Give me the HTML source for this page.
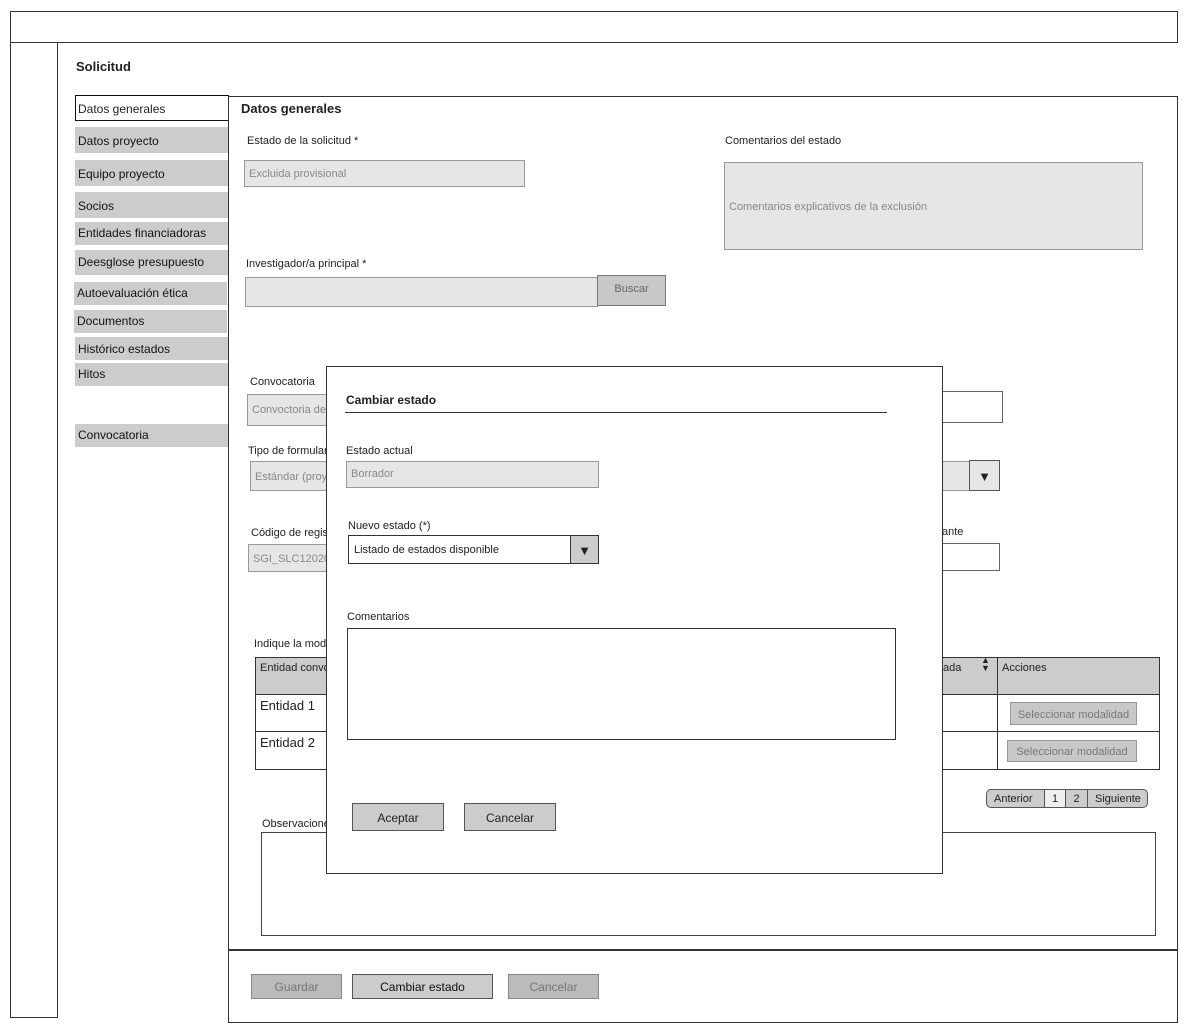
<!DOCTYPE html>
<html><head><meta charset="utf-8"><style>
*{box-sizing:border-box;margin:0;padding:0}
body{width:1200px;height:1034px;background:#fff;position:relative;overflow:hidden;font-family:"Liberation Sans",sans-serif;font-size:12px;color:#222}
.a{position:absolute}
.b{position:absolute;border:1px solid #333}
.s{position:absolute;background:#ccc;padding-left:3px;line-height:22px;font-size:12px;color:#111}
.in{position:absolute;background:#e6e6e6;border:1px solid #999;color:#888;padding-left:4px;font-size:11px}
.btn{position:absolute;border:1px solid #555;background:#ccc;text-align:center;font-size:12px}
.t{position:absolute;font-size:11px;color:#222;white-space:nowrap}
</style></head><body>
<div class="b" style="left:10px;top:11px;width:1168px;height:32px"></div>
<div class="b" style="left:10px;top:42px;width:48px;height:976px"></div>
<div class="a" style="left:76px;top:59px;font-weight:bold;font-size:13px">Solicitud</div>

<div class="a" style="left:75px;top:95px;width:154px;height:26px;border:1px solid #111;background:#fff;padding-left:2px;line-height:26px;font-size:12px">Datos generales</div>
<div class="s" style="left:75px;top:127px;width:153px;height:26px;line-height:28px">Datos proyecto</div>
<div class="s" style="left:75px;top:160px;width:153px;height:26px;line-height:28px">Equipo proyecto</div>
<div class="s" style="left:75px;top:192px;width:153px;height:26px;line-height:28px">Socios</div>
<div class="s" style="left:75px;top:222px;width:153px;height:23px;line-height:22px">Entidades financiadoras</div>
<div class="s" style="left:75px;top:250px;width:153px;height:25px;line-height:24px">Deesglose presupuesto</div>
<div class="s" style="left:74px;top:282px;width:153px;height:23px;line-height:22px">Autoevaluación ética</div>
<div class="s" style="left:74px;top:310px;width:153px;height:23px;line-height:22px">Documentos</div>
<div class="s" style="left:75px;top:337px;width:153px;height:23px;line-height:24px">Histórico estados</div>
<div class="s" style="left:75px;top:363px;width:153px;height:23px">Hitos</div>
<div class="s" style="left:75px;top:424px;width:153px;height:23px">Convocatoria</div>

<div class="b" style="left:228px;top:96px;width:950px;height:927px"></div>
<div class="a" style="left:228px;top:949px;width:950px;height:2px;background:#333"></div>
<div class="a" style="left:241px;top:101px;font-weight:bold;font-size:13px">Datos generales</div>

<div class="t" style="left:247px;top:135px">Estado de la solicitud *</div>
<div class="in" style="left:244px;top:160px;width:281px;height:27px;line-height:27px">Excluida provisional</div>
<div class="t" style="left:725px;top:135px">Comentarios del estado</div>
<div class="in" style="left:724px;top:162px;width:419px;height:88px;line-height:88px">Comentarios explicativos de la exclusión</div>
<div class="t" style="left:246px;top:258px">Investigador/a principal *</div>
<div class="in" style="left:245px;top:277px;width:353px;height:30px"></div>
<div class="btn" style="left:597px;top:275px;width:69px;height:31px;line-height:26px;color:#666;font-size:11px;border-color:#777;background:#c8c8c8">Buscar</div>

<div class="t" style="left:250px;top:376px">Convocatoria</div>
<div class="in" style="left:247px;top:394px;width:300px;height:32px;line-height:30px">Convoctoria de</div>
<div class="b" style="left:900px;top:391px;width:103px;height:32px;border-color:#666"></div>
<div class="t" style="left:248px;top:445px">Tipo de formulario</div>
<div class="in" style="left:250px;top:461px;width:720px;height:30px;line-height:30px">Estándar (proyecto)</div>
<div class="a" style="left:969px;top:460px;width:31px;height:31px;border:1px solid #555;background:#e6e6e6;text-align:center;line-height:31px;font-size:13px">▼</div>
<div class="t" style="left:251px;top:527px">Código de registro</div>
<div class="t" style="left:942px;top:526px">ante</div>
<div class="in" style="left:248px;top:544px;width:300px;height:28px;line-height:28px">SGI_SLC12020</div>
<div class="b" style="left:900px;top:543px;width:100px;height:28px;border-color:#666"></div>

<div class="t" style="left:254px;top:638px">Indique la modalidad</div>
<div class="b" style="left:255px;top:657px;width:905px;height:113px"></div>
<div class="a" style="left:256px;top:658px;width:903px;height:37px;background:#ccc;border-bottom:1px solid #333"></div>
<div class="a" style="left:256px;top:731px;width:903px;height:1px;background:#333"></div>
<div class="a" style="left:997px;top:658px;width:1px;height:111px;background:#333"></div>
<div class="t" style="left:260px;top:662px">Entidad convocante</div>
<div class="t" style="left:940px;top:662px">tada</div>
<div class="t" style="left:981px;top:656px;font-size:9px;line-height:8px">▲<br>▼</div>
<div class="t" style="left:1002px;top:662px">Acciones</div>
<div class="t" style="left:260px;top:698px;font-size:13px">Entidad 1</div>
<div class="t" style="left:260px;top:735px;font-size:13px">Entidad 2</div>
<div class="btn" style="left:1010px;top:702px;width:127px;height:23px;line-height:24px;color:#777;font-size:11px;border-color:#999;background:#c8c8c8">Seleccionar modalidad</div>
<div class="btn" style="left:1007px;top:740px;width:130px;height:22px;line-height:23px;color:#777;font-size:11px;border-color:#999;background:#c8c8c8">Seleccionar modalidad</div>

<div class="a" style="left:986px;top:789px;width:162px;height:19px;border:1px solid #555;border-radius:5px;background:#ccc;font-size:11px;line-height:18px;overflow:hidden">
<span class="a" style="left:7px">Anterior</span>
<span class="a" style="left:57px;width:22px;height:17px;background:#eee;border-left:1px solid #555;border-right:1px solid #555;text-align:center">1</span>
<span class="a" style="left:79px;width:22px;text-align:center;border-right:1px solid #555">2</span>
<span class="a" style="left:108px">Siguiente</span></div>

<div class="t" style="left:262px;top:818px">Observaciones</div>
<div class="b" style="left:261px;top:832px;width:895px;height:104px;border-color:#444"></div>

<div class="btn" style="left:251px;top:974px;width:91px;height:25px;line-height:25px;color:#777;border-color:#888;background:#bbb">Guardar</div>
<div class="btn" style="left:352px;top:974px;width:141px;height:25px;line-height:25px;color:#111">Cambiar estado</div>
<div class="btn" style="left:508px;top:974px;width:91px;height:25px;line-height:25px;color:#777;border-color:#888;background:#bbb">Cancelar</div>

<div class="b" style="left:326px;top:366px;width:617px;height:508px;background:#fff"></div>
<div class="a" style="left:346px;top:393px;font-weight:bold;font-size:12px">Cambiar estado</div>
<div class="a" style="left:345px;top:412px;width:542px;height:1px;background:#333"></div>
<div class="t" style="left:346px;top:445px">Estado actual</div>
<div class="in" style="left:346px;top:461px;width:253px;height:27px;line-height:25px">Borrador</div>
<div class="t" style="left:348px;top:520px">Nuevo estado (*)</div>
<div class="b" style="left:348px;top:535px;width:251px;height:29px;padding-left:5px;line-height:29px;font-size:11px">Listado de estados disponible</div>
<div class="a" style="left:570px;top:535px;width:29px;height:29px;border:1px solid #333;background:#ccc;text-align:center;line-height:29px;font-size:13px">▼</div>
<div class="t" style="left:347px;top:611px">Comentarios</div>
<div class="b" style="left:347px;top:628px;width:549px;height:112px"></div>
<div class="btn" style="left:352px;top:803px;width:92px;height:28px;line-height:29px">Aceptar</div>
<div class="btn" style="left:464px;top:803px;width:92px;height:28px;line-height:29px">Cancelar</div>
</body></html>
